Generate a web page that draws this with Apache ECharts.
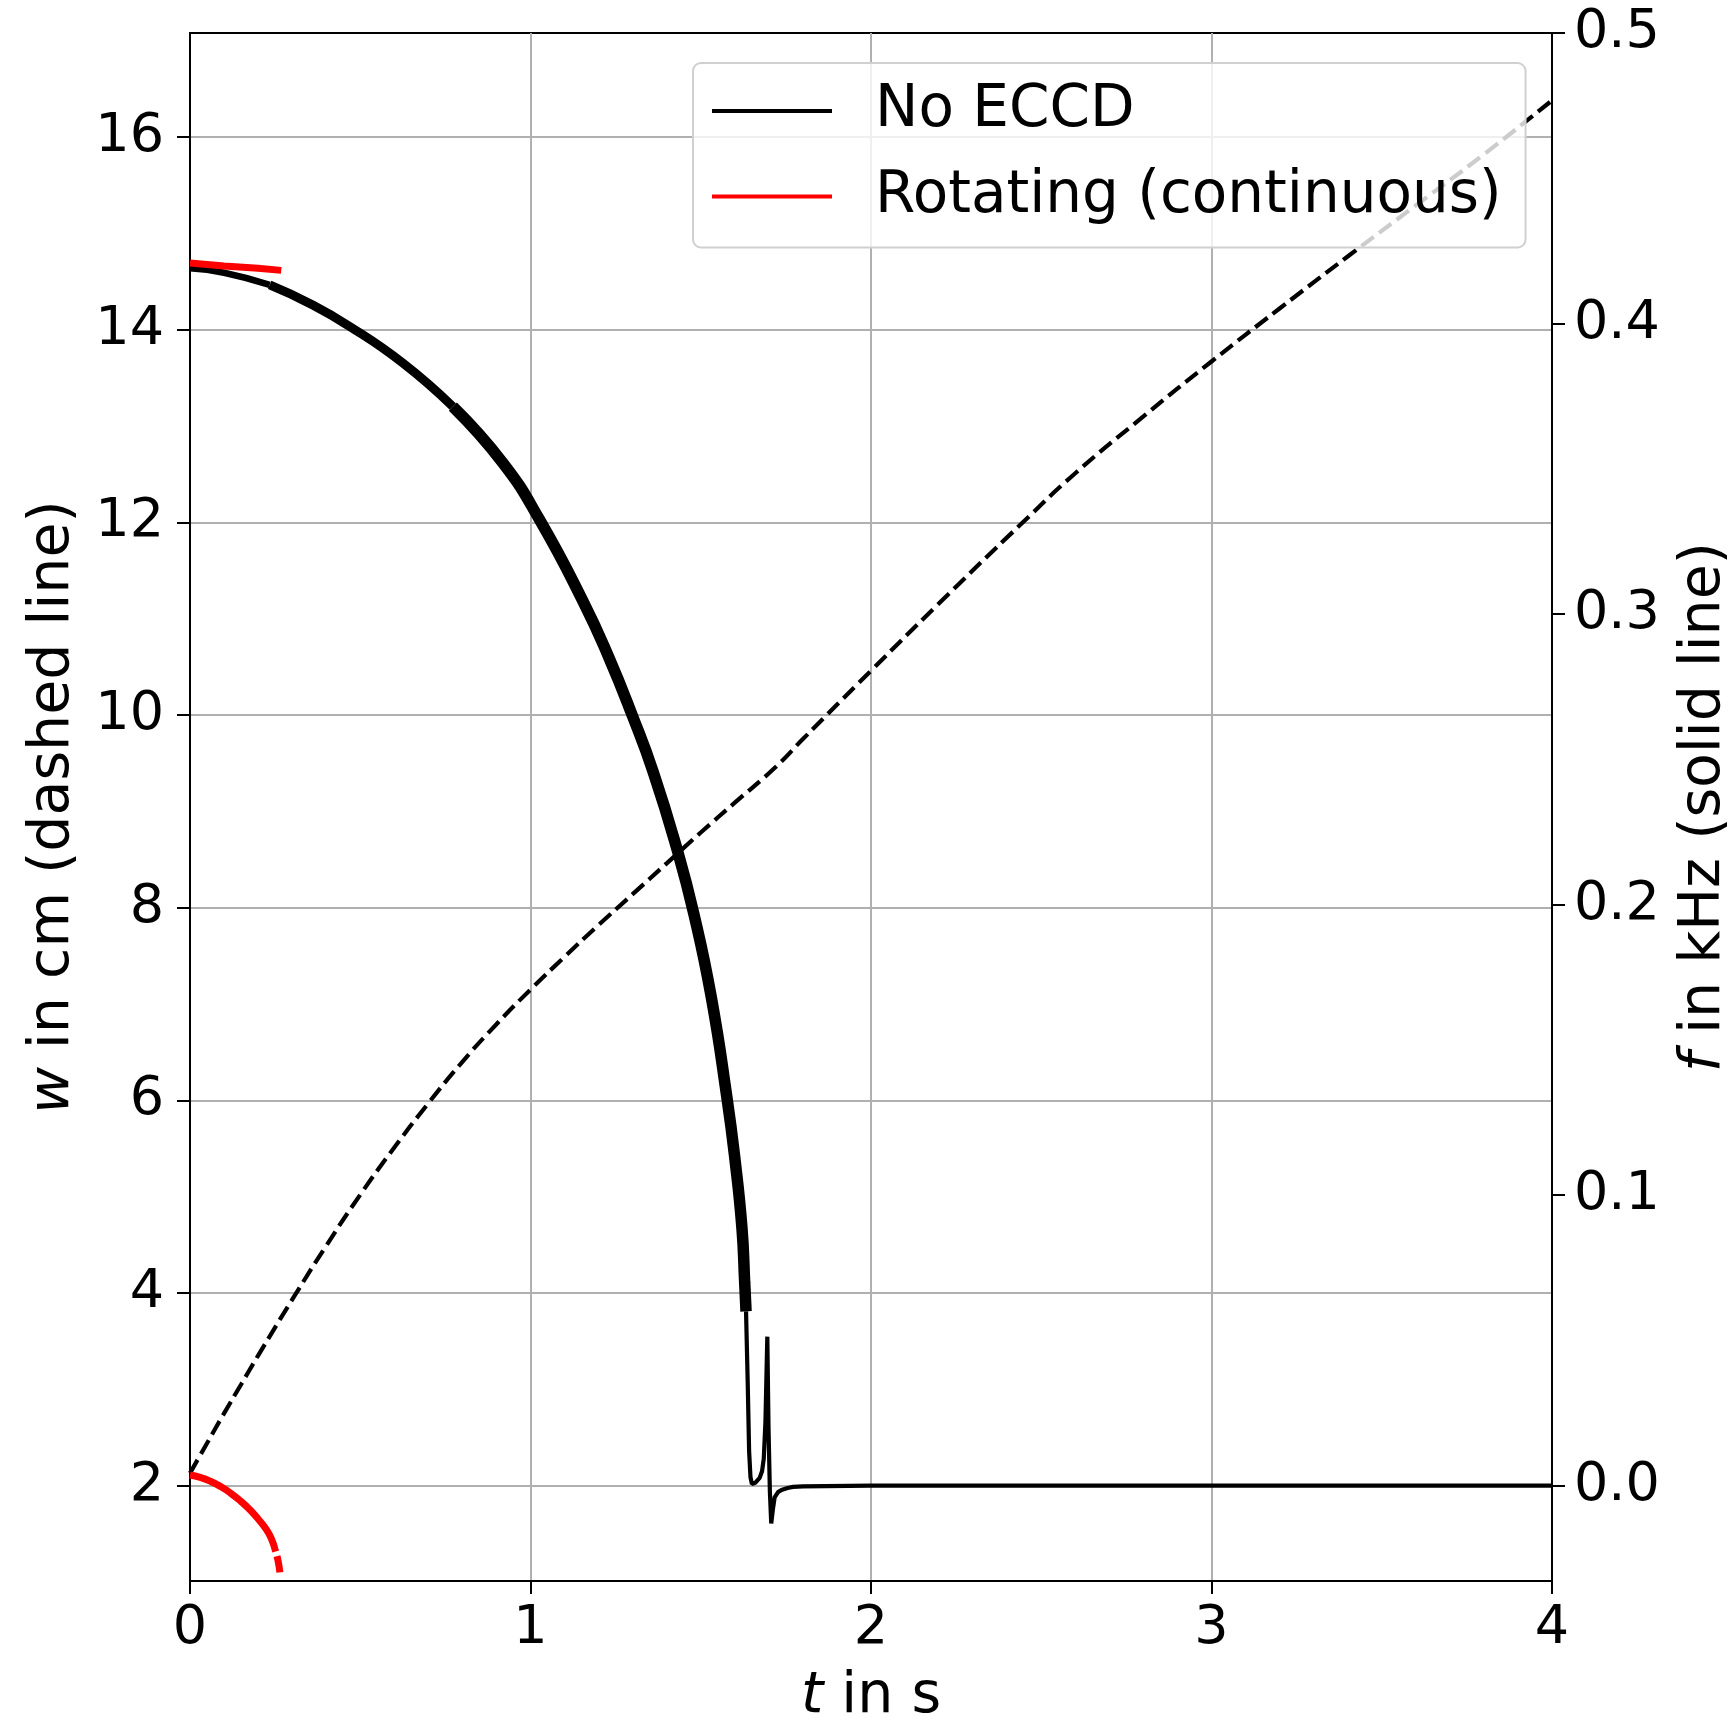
<!DOCTYPE html>
<html>
<head>
<meta charset="utf-8">
<script src="https://cdn.jsdelivr.net/npm/echarts@6/dist/echarts.min.js"></script>
<style>
  html, body { margin: 0; padding: 0; background: #fff; }
  #chart { width: 1736px; height: 1717px; }
</style>
</head>
<body>
<div id="chart"></div>
<script>
// island width w (left axis, dashed), No ECCD
var tWNo = [0, 0.05, 0.1, 0.15, 0.2, 0.3, 0.4, 0.5, 0.6, 0.7, 0.8, 0.9, 1.0, 1.1, 1.2, 1.3, 1.4, 1.5, 1.6, 1.72, 1.8, 2.0, 2.2, 2.44, 2.6, 2.8, 3.0, 3.2, 3.4, 3.6, 3.8, 4.0];
var wNo  = [2.13, 2.44, 2.75, 3.05, 3.35, 3.93, 4.49, 5.02, 5.51, 5.97, 6.40, 6.79, 7.15, 7.49, 7.82, 8.14, 8.46, 8.78, 9.09, 9.46, 9.75, 10.46, 11.16, 11.98, 12.51, 13.10, 13.67, 14.22, 14.76, 15.29, 15.82, 16.38];

// island width w, rotating ECCD
var tWRot = [0, 0.03, 0.06, 0.09, 0.12, 0.15, 0.176, 0.2, 0.225, 0.24, 0.25, 0.258, 0.264];
var wRot  = [2.11, 2.085, 2.045, 1.99, 1.92, 1.835, 1.75, 1.655, 1.54, 1.44, 1.335, 1.23, 1.10];

// frequency f (right axis, solid), No ECCD: oscillating band in three parts, then thin tail
var tFBand1 = [0, 0.1, 0.234];
var fBand1  = [0.419, 0.4175, 0.4133];
var tFBand2 = [0.234, 0.35, 0.469, 0.625, 0.772];
var fBand2  = [0.4133, 0.407, 0.399, 0.3864, 0.3714];
var tFBand3 = [0.772, 0.919, 1.027, 1.155, 1.23, 1.299, 1.36, 1.43, 1.48, 1.531, 1.577, 1.60, 1.621, 1.629, 1.633];
var fBand3  = [0.3714, 0.352, 0.3324, 0.3042, 0.2851, 0.2651, 0.2458, 0.2192, 0.1967, 0.1681, 0.1335, 0.1128, 0.0887, 0.070, 0.060];
var tFTail = [1.633, 1.638, 1.642, 1.646, 1.650, 1.660, 1.673, 1.680, 1.685, 1.690, 1.6955, 1.699, 1.703, 1.707, 1.712, 1.717, 1.727, 1.737, 1.755, 1.771, 1.8, 2.0, 2.5, 3.0, 3.5, 4.0];
var fTail  = [0.060, 0.035, 0.012, 0.003, 0.0006, 0.001, 0.0027, 0.005, 0.0092, 0.022, 0.0513, 0.020, -0.002, -0.013, -0.008, -0.004, -0.0022, -0.0015, -0.0008, -0.0004, -0.0002, 0, 0, 0, 0, 0];

// frequency f, rotating ECCD
var tFRot = [0, 0.1, 0.2, 0.268];
var fRot  = [0.4208, 0.4198, 0.419, 0.4183];

var xTicks = [0, 1, 2, 3, 4];
var wTicks = [2, 4, 6, 8, 10, 12, 14, 16];
var fTicks = [0, 0.1, 0.2, 0.3, 0.4, 0.5];

function zip(a, b) {
    return a.map(function (v, i) { return [v, b[i]]; });
}

var FONT = 'DejaVu Sans';

function nameStyle() {
    return {
        fontFamily: FONT, fontSize: 57, color: '#000',
        rich: { i: { fontFamily: FONT, fontSize: 57, fontStyle: 'italic', color: '#000' } }
    };
}

function fLine(t, f, width) {
    return {
        name: 'No ECCD', type: 'line', yAxisIndex: 1, symbol: 'none', z: 3,
        smooth: 0.5,
        data: zip(t, f),
        lineStyle: { color: '#000', width: width },
        itemStyle: { color: '#000' }
    };
}

var myChart = echarts.init(document.getElementById('chart'));
var option = {
    animation: false,
    backgroundColor: '#fff',
    textStyle: { fontFamily: FONT, color: '#000' },
    grid: {
        left: 190, right: 184, top: 33, bottom: 136,
        outerBoundsMode: 'none',
        containLabel: false,
        show: true, borderColor: '#000', borderWidth: 2,
        backgroundColor: 'transparent'
    },
    legend: {
        orient: 'vertical',
        left: 693, top: 63,
        padding: [18, 24, 21, 19],
        icon: 'rect',
        itemWidth: 120,
        itemHeight: 4,
        itemGap: 25.5,
        backgroundColor: 'rgba(255,255,255,0.8)',
        borderColor: '#d0d0d0',
        borderWidth: 2,
        borderRadius: 8,
        textStyle: { fontFamily: FONT, fontSize: 58, color: '#000', lineHeight: 60, padding: [0, 0, 0, 38] },
        data: ['No ECCD', 'Rotating (continuous)']
    },
    xAxis: {
        type: 'value', min: 0, max: 4, interval: 1,
        name: '{i|t} in s',
        nameLocation: 'middle', nameGap: 88,
        nameTextStyle: nameStyle(),
        axisLine: { show: true, onZero: false, lineStyle: { color: '#000', width: 2 } },
        axisTick: { show: true, inside: false, length: 13, lineStyle: { color: '#000', width: 2 } },
        axisLabel: { fontFamily: FONT, fontSize: 54, color: '#000', margin: 21 },
        splitLine: { show: true, lineStyle: { color: '#b0b0b0', width: 2 } }
    },
    yAxis: [{
        type: 'value', position: 'left', min: 1.01, max: 17.08,
        name: '{i|w} in cm (dashed line)',
        nameLocation: 'middle', nameRotate: 90, nameGap: 108,
        nameTextStyle: nameStyle(),
        axisLine: { show: true, onZero: false, lineStyle: { color: '#000', width: 2 } },
        axisTick: { show: true, inside: false, length: 13, customValues: wTicks, lineStyle: { color: '#000', width: 2 } },
        axisLabel: { fontFamily: FONT, fontSize: 54, color: '#000', margin: 26, customValues: wTicks },
        splitLine: { show: true, lineStyle: { color: '#b0b0b0', width: 2 } }
    }, {
        type: 'value', position: 'right', min: -0.0328, max: 0.5,
        name: '{i|f} in kHz (solid line)',
        nameLocation: 'middle', nameRotate: 90, nameGap: 124,
        nameTextStyle: nameStyle(),
        axisLine: { show: true, onZero: false, lineStyle: { color: '#000', width: 2 } },
        axisTick: { show: true, inside: false, length: 13, customValues: fTicks, lineStyle: { color: '#000', width: 2 } },
        axisLabel: {
            fontFamily: FONT, fontSize: 54, color: '#000', margin: 22, customValues: fTicks,
            formatter: function (v) { return v.toFixed(1); }
        },
        splitLine: { show: false }
    }],
    series: [
        {
            name: 'No ECCD', type: 'line', yAxisIndex: 0, symbol: 'none', z: 2,
            smooth: 0.5,
            data: zip(tWNo, wNo),
            lineStyle: { color: '#000', width: 4.2, type: [15.5, 6.7] },
            itemStyle: { color: '#000' }
        },
        {
            name: 'Rotating (continuous)', type: 'line', yAxisIndex: 0, symbol: 'none', z: 2,
            smooth: 0.5,
            data: zip(tWRot, wRot),
            lineStyle: { color: '#ff0000', width: 7, type: [120, 5] },
            itemStyle: { color: '#ff0000' }
        },
        fLine(tFBand1, fBand1, 6.5),
        fLine(tFBand2, fBand2, 9),
        fLine(tFBand3, fBand3, 11.5),
        {
            name: 'No ECCD', type: 'line', yAxisIndex: 1, symbol: 'none', z: 3,
            data: zip(tFTail, fTail),
            lineStyle: { color: '#000', width: 4.2 },
            itemStyle: { color: '#000' }
        },
        {
            name: 'Rotating (continuous)', type: 'line', yAxisIndex: 1, symbol: 'none', z: 3,
            data: zip(tFRot, fRot),
            lineStyle: { color: '#ff0000', width: 7 },
            itemStyle: { color: '#ff0000' }
        }
    ]
};

myChart.setOption(option);
</script>
</body>
</html>
